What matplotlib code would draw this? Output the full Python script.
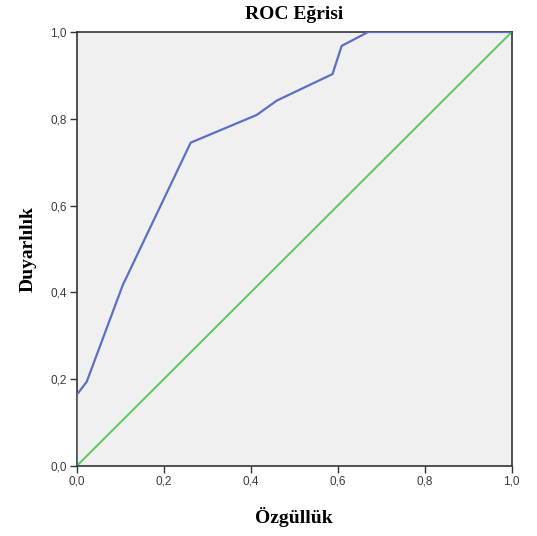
import matplotlib
matplotlib.use("Agg")
import matplotlib.pyplot as plt

# ROC curve (1 - specificity on x, sensitivity on y)
fpr = [0.0, 0.0, 0.023, 0.106, 0.262, 0.414, 0.460, 0.588, 0.609, 0.670, 1.0]
tpr = [0.0, 0.164, 0.194, 0.417, 0.745, 0.809, 0.842, 0.903, 0.968, 1.0, 1.0]
ref_x = [0.0, 1.0]
ref_y = [0.0, 1.0]
ticks = [0.0, 0.2, 0.4, 0.6, 0.8, 1.0]
tick_labels = ["0,0", "0,2", "0,4", "0,6", "0,8", "1,0"]

fig = plt.figure(figsize=(5.37, 5.36), dpi=100)
ax = fig.add_axes([0.1428, 0.1306, 0.953 - 0.1428, 0.9403 - 0.1306])
ax.set_facecolor("#f0f0f0")

ax.plot(ref_x, ref_y, color="#5cc85c", lw=1.4, zorder=2)
ax.plot(fpr, tpr, color="#5b70c2", lw=1.6, zorder=3)

ax.set_xlim(0, 1)
ax.set_ylim(0, 1)
ax.set_xticks(ticks)
ax.set_yticks(ticks)
ax.set_xticklabels(tick_labels, fontfamily="Liberation Sans", fontsize=8.5, color="#3a3a3a")
ax.set_yticklabels(tick_labels, fontfamily="Liberation Sans", fontsize=8.5, color="#3a3a3a")
ax.tick_params(direction="out", length=5, width=1, color="#333333", pad=2)
for s in ax.spines.values():
    s.set_color("#333333")
    s.set_linewidth(1.2)

ax.set_title("ROC Eğrisi", fontfamily="Liberation Serif", fontweight="bold", fontsize=14, pad=9)
ax.set_xlabel("Özgüllük", fontfamily="Liberation Serif", fontweight="bold", fontsize=14, labelpad=14)
ax.set_ylabel("Duyarlılık", fontfamily="Liberation Serif", fontweight="bold", fontsize=14, labelpad=10)

fig.savefig("out.png", dpi=100, facecolor="white")
